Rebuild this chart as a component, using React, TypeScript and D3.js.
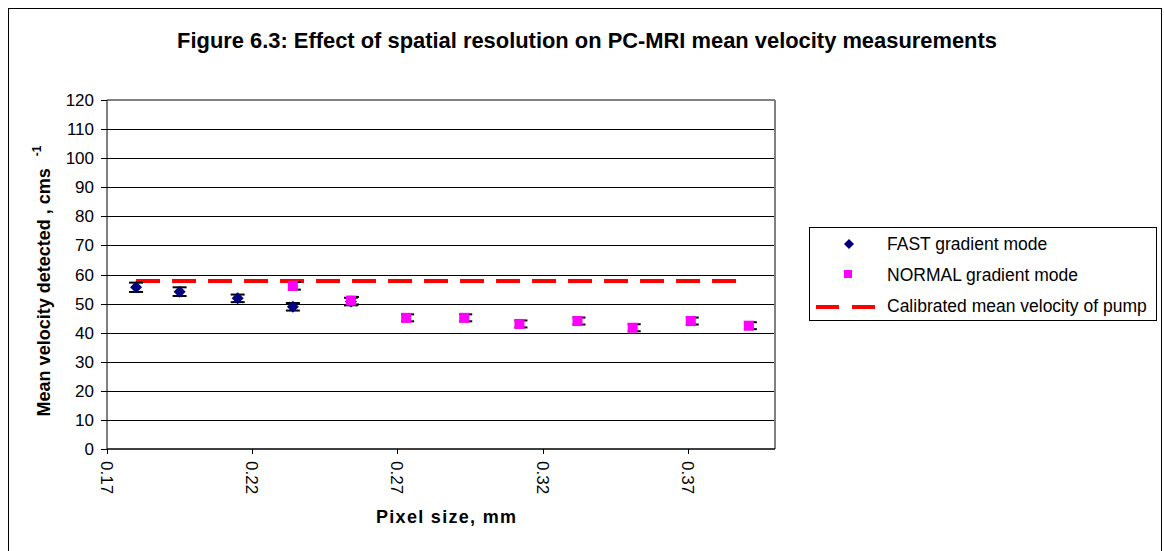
import React from "react";
import * as d3 from "d3";

// ---- data ----
const yTicks = [0, 10, 20, 30, 40, 50, 60, 70, 80, 90, 100, 110, 120];
const xTicks = [0.17, 0.22, 0.27, 0.32, 0.37];
const xTickLabels = ["0.17", "0.22", "0.27", "0.32", "0.37"];

const fastPixel = [0.18, 0.195, 0.215, 0.234, 0.254];
const fastVelocity = [55.6, 54.1, 51.8, 48.9, 50.7];
const fastError = [1.6, 1.5, 1.3, 1.3, 1.3];

const normalPixel = [0.234, 0.254, 0.273, 0.293, 0.312, 0.332, 0.351, 0.371, 0.391];
const normalVelocity = [56.1, 51.0, 45.1, 45.1, 43.0, 44.0, 41.7, 44.0, 42.4];
const normalError = [1.3, 1.3, 1.2, 1.2, 1.2, 1.2, 1.2, 1.2, 1.2];

const calibratedPixel = [0.18, 0.3905];
const calibratedVelocity = [57.8, 57.8];

const legendLabels = [
  "FAST gradient mode",
  "NORMAL gradient mode",
  "Calibrated mean velocity of pump",
];

const FONT = "'Liberation Sans', Arial, sans-serif";

export default function App() {
  const left = 107, right = 775, top = 100, bottom = 449;
  const x = d3.scaleLinear().domain([0.17, 0.4]).range([left, right]);
  const y = d3.scaleLinear().domain([0, 120]).range([bottom, top]);

  const line = d3
    .line<number>()
    .x((_, i) => x(calibratedPixel[i]))
    .y((d) => y(d));

  const diamond = (cx: number, cy: number, r: number) =>
    `M${cx},${cy - r}L${cx + r},${cy}L${cx},${cy + r}L${cx - r},${cy}Z`;

  return (
    <svg
      width={1164}
      height={551}
      style={{ position: "absolute", left: 0, top: 0, background: "#fff" }}
      fontFamily={FONT}
    >
      <rect x={0} y={0} width={1164} height={551} fill="#fff" />
      <rect x={8.5} y={8.5} width={1153} height={570} fill="none" stroke="#000" strokeWidth={1} />

      {/* title */}
      <text x={587} y={48} textAnchor="middle" fontWeight="bold" fontSize={21.9}>
        Figure 6.3: Effect of spatial resolution on PC-MRI mean velocity measurements
      </text>

      {/* gridlines */}
      {yTicks.slice(1, -1).map((t) => (
        <line key={t} x1={left} x2={right} y1={Math.round(y(t)) + 0.5} y2={Math.round(y(t)) + 0.5} stroke="#000" strokeWidth={1} />
      ))}
      {/* plot border */}
      <line x1={left} x2={right} y1={top} y2={top} stroke="#808080" strokeWidth={2} />
      <line x1={right} x2={right} y1={top} y2={bottom} stroke="#808080" strokeWidth={2} />

      {/* axes */}
      <line x1={left} x2={left} y1={top} y2={bottom} stroke="#000" strokeWidth={1} />
      <line x1={left} x2={right} y1={bottom} y2={bottom} stroke="#000" strokeWidth={1.5} />

      {yTicks.map((t) => (
        <g key={t}>
          <line x1={left - 6} x2={left} y1={Math.round(y(t)) + 0.5} y2={Math.round(y(t)) + 0.5} stroke="#000" />
          <text x={94} y={y(t) + 6} textAnchor="end" fontSize={17}>
            {t}
          </text>
        </g>
      ))}
      {xTicks.map((t, i) => (
        <g key={t}>
          <line x1={Math.round(x(t)) + 0.5} x2={Math.round(x(t)) + 0.5} y1={bottom} y2={bottom + 5} stroke="#000" />
          <text transform={`translate(${x(t)},${461}) rotate(90)`} dy="0.35em" textAnchor="start" fontSize={17}>
            {xTickLabels[i]}
          </text>
        </g>
      ))}

      {/* axis titles */}
      <text x={446} y={523} textAnchor="middle" fontWeight="bold" fontSize={18} textLength={140} lengthAdjust="spacing">
        Pixel size, mm
      </text>
      <text transform="translate(50,281) rotate(-90)" textAnchor="middle" fontWeight="bold" fontSize={18}>
        Mean velocity detected , cms
        <tspan dx={12} dy={-9} fontSize={12}>-1</tspan>
      </text>

      {/* calibrated line */}
      <path d={line(calibratedVelocity) || ""} fill="none" stroke="#ff0000" strokeWidth={4} strokeDasharray="24 12" />

      {/* FAST series */}
      {fastPixel.map((p, i) => {
        const cx = x(p), cy = y(fastVelocity[i]);
        const y1 = y(fastVelocity[i] + fastError[i]), y2 = y(fastVelocity[i] - fastError[i]);
        return (
          <g key={"f" + i}>
            <line x1={cx} x2={cx} y1={y1} y2={y2} stroke="#000" />
            <line x1={cx - 7} x2={cx + 7} y1={y1} y2={y1} stroke="#000" strokeWidth={2} />
            <line x1={cx - 7} x2={cx + 7} y1={y2} y2={y2} stroke="#000" strokeWidth={2} />
            <path d={diamond(cx, cy, 6)} fill="#000080" />
          </g>
        );
      })}

      {/* NORMAL series */}
      {normalPixel.map((p, i) => {
        const cx = x(p), cy = y(normalVelocity[i]);
        const y1 = y(normalVelocity[i] + normalError[i]), y2 = y(normalVelocity[i] - normalError[i]);
        return (
          <g key={"n" + i}>
            <line x1={cx} x2={cx} y1={y1} y2={y2} stroke="#000" />
            <line x1={cx - 5} x2={cx + 8} y1={y1} y2={y1} stroke="#000" strokeWidth={2} />
            <line x1={cx - 5} x2={cx + 8} y1={y2} y2={y2} stroke="#000" strokeWidth={2} />
            <rect x={cx - 5} y={cy - 5} width={10} height={10} fill="#ff00ff" />
          </g>
        );
      })}

      {/* legend */}
      <rect x={809.5} y={227.5} width={347} height={93} fill="#fff" stroke="#000" strokeWidth={1} />
      <path d={diamond(849, 244, 5)} fill="#000080" />
      <rect x={844} y={270} width={8} height={8} fill="#ff00ff" />
      <line x1={816} x2={877} y1={307} y2={307} stroke="#ff0000" strokeWidth={4} strokeDasharray="23 13" />
      {legendLabels.map((l, i) => (
        <text key={l} x={887} y={250 + i * 31} fontSize={17.5}>
          {l}
        </text>
      ))}
    </svg>
  );
}
